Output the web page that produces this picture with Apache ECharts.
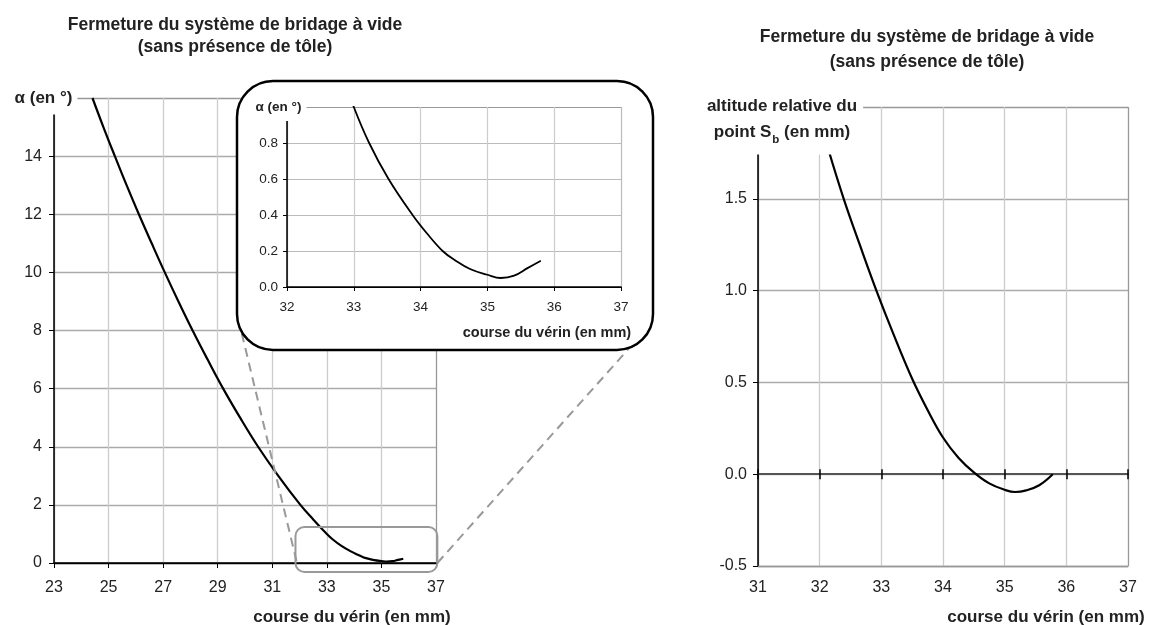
<!DOCTYPE html>
<html>
<head>
<meta charset="utf-8">
<script src="https://cdn.jsdelivr.net/npm/echarts@6/dist/echarts.min.js"></script>
<style>html,body{margin:0;padding:0;background:#fff}#c{width:1150px;height:625px}</style>
</head>
<body>
<div id="c"></div>
<script>
// ---- data ----
const course = [24.41, 24.81, 25.23, 25.66, 26.11, 26.58, 27.06, 27.56, 28.08, 28.63, 29.2, 29.82, 30.48, 31.22, 32.03, 32.5, 33.0, 33.23, 33.52, 33.88, 34.09, 34.33, 34.51, 34.74, 35.0, 35.2, 35.4, 35.6, 35.8];
const alpha = [16.0, 15.0, 14.0, 13.0, 12.0, 11.0, 10.0, 9.0, 8.0, 7.0, 6.0, 5.0, 4.0, 3.0, 2.0, 1.5, 1.0, 0.8, 0.6, 0.4, 0.3, 0.2, 0.15, 0.1, 0.068, 0.05, 0.063, 0.105, 0.146];
const courseSb = [32.14, 32.39, 32.65, 32.92, 33.2, 33.5, 33.75, 34.0, 34.25, 34.5, 34.75, 35.0, 35.17, 35.35, 35.56, 35.78];
const altitude = [1.77, 1.5, 1.25, 1.0, 0.76, 0.52, 0.35, 0.2, 0.09, 0.01, -0.05, -0.085, -0.097, -0.088, -0.06, 0.0];
const zoomRegion = [31.85, 37.05, -0.31, 1.24]; // xmin, xmax, ymin, ymax in main-chart data units
const titleLines = ['Fermeture du système de bridage à vide', '(sans présence de tôle)'];
const xTitle = 'course du vérin (en mm)';
const alphaTitle = 'α (en °)';

const FONT = '"Liberation Sans", Arial, sans-serif';
const TXT = '#222';
const zip = (a, b) => a.map((v, i) => [v, b[i]]);

const chart = echarts.init(document.getElementById('c'), null, {renderer: 'canvas'});

function lbl(size, margin, fmt) {
  return {show: true, fontSize: size, fontFamily: FONT, color: TXT, margin: margin, formatter: fmt};
}
const blackLine = {show: true, lineStyle: {color: '#000', width: 1.5}};

const option = {
  animation: false,
  backgroundColor: '#fff',
  grid: [
    {left: 54, top: 98, width: 382, height: 465},
    {left: 287, top: 107, width: 334, height: 180, z: 20},
    {left: 758, top: 107, width: 370, height: 459}
  ],
  xAxis: [
    {gridIndex: 0, type: 'value', min: 23, max: 37, interval: 2,
     axisLine: blackLine, axisTick: {show: true, length: 5, lineStyle: {color: '#000'}},
     axisLabel: lbl(16, 17),
     splitLine: {show: true, lineStyle: {color: ['#999', '#ccc', '#ccc', '#ccc', '#ccc', '#ccc', '#ccc', '#999'], width: 1.3}}},
    {gridIndex: 1, type: 'value', min: 32, max: 37, interval: 1, z: 20,
     axisLine: blackLine, axisTick: {show: true, length: 4, lineStyle: {color: '#000'}},
     axisLabel: lbl(13.5, 13),
     splitLine: {show: true, lineStyle: {color: ['#999', '#ccc', '#ccc', '#ccc', '#ccc', '#bbb'], width: 1.2}}},
    {gridIndex: 2, type: 'value', min: 31, max: 37, interval: 1, position: 'bottom',
     axisLine: {show: true, onZero: false, lineStyle: {color: '#999', width: 1.3}}, axisTick: {show: false},
     axisLabel: lbl(16, 14),
     splitLine: {show: true, lineStyle: {color: ['#999', '#ccc', '#ccc', '#ccc', '#ccc', '#ccc', '#999'], width: 1.3}}},
    {gridIndex: 2, type: 'value', min: 31, max: 37, interval: 1, position: 'bottom',
     axisLine: {show: true, onZero: true, onZeroAxisIndex: 2, lineStyle: {color: '#555', width: 2}},
     axisTick: {show: true, length: 5, lineStyle: {color: '#000', width: 1.5}},
     axisLabel: {show: false}, splitLine: {show: false}},
    {gridIndex: 2, type: 'value', min: 31, max: 37, interval: 1, position: 'bottom',
     axisLine: {show: false, onZero: true, onZeroAxisIndex: 2},
     axisTick: {show: true, inside: true, length: 5, lineStyle: {color: '#000', width: 1.5}},
     axisLabel: {show: false}, splitLine: {show: false}}
  ],
  yAxis: [
    {gridIndex: 0, type: 'value', min: 0, max: 16, interval: 2,
     axisLine: blackLine, axisTick: {show: true, length: 5, lineStyle: {color: '#000'}},
     axisLabel: lbl(16, 12, v => v >= 16 ? '' : String(v)),
     splitLine: {show: true, lineStyle: {color: ['#000', '#aaa', '#aaa', '#aaa', '#aaa', '#aaa', '#aaa', '#aaa', '#999'], width: 1.3}}},
    {gridIndex: 1, type: 'value', min: 0, max: 1, interval: 0.2, z: 20,
     axisLine: blackLine, axisTick: {show: true, length: 4, lineStyle: {color: '#000'}},
     axisLabel: lbl(13.5, 9, v => v >= 1 ? '' : v.toFixed(1)),
     splitLine: {show: true, lineStyle: {color: ['#000', '#bbb', '#bbb', '#bbb', '#bbb', '#999'], width: 1.2}}},
    {gridIndex: 2, type: 'value', min: -0.5, max: 2, interval: 0.5,
     axisLine: blackLine, axisTick: {show: true, length: 5, lineStyle: {color: '#000'}},
     axisLabel: lbl(16, 11, v => v >= 2 ? '' : v.toFixed(1)),
     splitLine: {show: true, lineStyle: {color: ['#999', '#aaa', '#aaa', '#aaa', '#aaa', '#999'], width: 1.3}}}
  ],
  series: [
    {type: 'line', xAxisIndex: 0, yAxisIndex: 0, data: zip(course, alpha), smooth: 0.4,
     showSymbol: false, lineStyle: {color: '#000', width: 2.2}, z: 3},
    {type: 'line', xAxisIndex: 1, yAxisIndex: 1, data: zip(course, alpha), smooth: 0.4,
     showSymbol: false, lineStyle: {color: '#000', width: 1.8}, z: 25},
    {type: 'line', xAxisIndex: 2, yAxisIndex: 2, data: zip(courseSb, altitude), smooth: 0.4,
     showSymbol: false, lineStyle: {color: '#000', width: 2.2}, z: 3}
  ]
};
chart.setOption(option);

// ---- annotations (derived from axes) ----
const p = (g, x, y) => chart.convertToPixel({gridIndex: g}, [x, y]);
const zTL = p(0, zoomRegion[0], zoomRegion[3]);
const zBR = p(0, zoomRegion[1], zoomRegion[2]);
const base = p(0, 23, 0)[1];

function text(x, y, str, size, extra) {
  return Object.assign({type: 'text', x: x, y: y, z: 30,
    style: Object.assign({text: str, fontSize: size, fontWeight: 'bold', fontFamily: FONT, fill: TXT,
      align: 'center', verticalAlign: 'middle'}, extra || {})});
}

chart.setOption({
  graphic: [
    {type: 'rect', z: 5, shape: {x: zTL[0], y: zTL[1], width: zBR[0] - zTL[0], height: zBR[1] - zTL[1], r: 9},
     style: {fill: null, stroke: '#999', lineWidth: 2}},
    {type: 'line', z: 5, shape: {x1: zTL[0] + 1, y1: base - 2, x2: 240, y2: 326},
     style: {stroke: '#999', lineWidth: 2, lineDash: [9, 6]}},
    {type: 'line', z: 5, shape: {x1: zBR[0], y1: base, x2: 632, y2: 345},
     style: {stroke: '#999', lineWidth: 2, lineDash: [9, 6]}},
    {type: 'rect', z: 10, shape: {x: 237, y: 81, width: 416, height: 269, r: 36},
     style: {fill: '#fff', stroke: '#000', lineWidth: 2.5}},
    text(235, 25, titleLines[0], 17.5),
    text(235, 47, titleLines[1], 17.5),
    text(927, 37, titleLines[0], 17.5),
    text(927, 62, titleLines[1], 17.5),
    text(352, 617, xTitle, 17),
    text(1046, 617, xTitle, 17),
    text(547, 333, xTitle, 14.5),
    text(43, 98, alphaTitle, 17, {backgroundColor: '#fff', padding: [3, 5, 13, 6]}),
    text(279, 107, alphaTitle, 13.5, {backgroundColor: '#fff', padding: [3, 5, 11, 4]}),
    text(782, 122, 'altitude relative du\n{n|point S}{s|b}{n| (en mm)}', 17, {
      backgroundColor: '#fff', padding: [4, 6, 9, 6], lineHeight: 26,
      rich: {
        n: {fontSize: 17, fontWeight: 'bold', fontFamily: FONT, fill: TXT, lineHeight: 26},
        s: {fontSize: 11.5, fontWeight: 'bold', fontFamily: FONT, fill: TXT, lineHeight: 26, verticalAlign: 'bottom', padding: [0, 0, 0, 1]}
      }
    })
  ]
});
</script>
</body>
</html>
